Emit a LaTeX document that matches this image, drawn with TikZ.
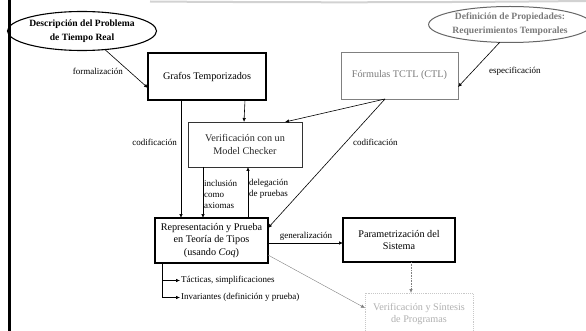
\documentclass[tikz,border=0pt]{standalone}
\usepackage{fontspec}
\setmainfont{Liberation Serif}
\usetikzlibrary{shapes.geometric,arrows.meta,calc}
\definecolor{grtxt}{HTML}{7A7A7A}
\definecolor{grline}{HTML}{808080}
\definecolor{ltgr}{HTML}{B0B0B0}
\begin{document}
\begin{tikzpicture}[x=1pt,y=-1pt,
  box/.style={draw,rectangle,outer sep=0pt,inner sep=1pt,align=center,font=\fontsize{10.2}{12.5}\selectfont},
  ell/.style={draw,ellipse,outer sep=0pt,inner sep=0pt,align=center,font=\fontsize{9.6}{14}\selectfont\bfseries},
  lbl/.style={inner sep=1pt,font=\fontsize{9}{11}\selectfont},
  arr/.style={-{Latex[length=4pt,width=3.5pt]},line width=0.6pt},
]
\useasboundingbox (0,0) rectangle (586,331);
% scan artifacts
\draw[line width=2.6pt] (9.5,0) -- (9.5,331);
\draw[gray!35,line width=2pt] (150,1.5) .. controls (350,3) and (480,2) .. (586,1);

\node[ell,line width=1.1pt,minimum width=145pt,minimum height=39pt] (e1) at (82,31) {Descripción del Problema\\de Tiempo Real};
\node[ell,draw=black!60,line width=1pt,text=grtxt,minimum width=134pt,minimum height=36pt] (e2) at (510,24.5) {Definición de Propiedades:\\Requerimientos Temporales};

\node[box,line width=1.2pt,minimum width=118pt,minimum height=47pt] (graf) at (207,76.5) {Grafos Temporizados};
\node[box,draw=grline,line width=0.9pt,text=grtxt,minimum width=117pt,minimum height=47pt] (form) at (399.5,75.5) {Fórmulas TCTL (CTL)};
\node[box,draw=black!80,line width=0.9pt,text=black!85,minimum width=114pt,minimum height=45pt] (mc) at (245,144.5) {Verificación con un\\Model Checker};
\node[box,line width=1.2pt,minimum width=113pt,minimum height=45pt] (rep) at (211.5,240.5) {Representación y Prueba\\en Teoría de Tipos\\(usando \textit{Coq})};
\node[box,line width=1.2pt,minimum width=112pt,minimum height=44pt] (param) at (399,240) {Parametrización del\\Sistema};
\node[box,draw=ltgr!70,densely dotted,line width=0.9pt,text=ltgr,minimum width=108pt,minimum height=42pt] (vs) at (419,314) {Verificación y Síntesis\\de Programas};

% connectors
\draw[arr] (e1.-39) -- ([yshift=-11.5pt]graf.west);
\node[lbl,anchor=east] at (124,71) {formalización};

\draw[arr] (e2.-120) -- ([yshift=-11.5pt]form.east);
\node[lbl,anchor=west] at (488,71) {especificación};

\draw[arr] ([xshift=33pt]graf.south west) -- ([xshift=26pt]rep.north west);
\node[lbl,anchor=east] at (178,142) {codificación};

\draw[arr] ([xshift=97pt]graf.south west) -- ([xshift=56pt]mc.north west);

\draw[arr] ([xshift=-14.5pt]form.south) -- ([xshift=-17pt]mc.north east);
\draw[arr] ([xshift=-14.5pt]form.south) -- ([yshift=-10pt]rep.north east);
\node[lbl,anchor=west] at (352,142) {codificación};

\draw[arr] ([xshift=15pt]mc.south west) -- ([xshift=48pt]rep.north west);
\node[lbl,anchor=west,align=left,font=\fontsize{9}{11.3}\selectfont] at (203,194.5) {inclusión\\como\\axiomas};

\draw[arr] ([xshift=93pt]rep.north west) -- ([xshift=60pt]mc.south west);
\node[lbl,anchor=west,align=left,font=\fontsize{9}{11.3}\selectfont] at (248,189) {delegación\\de pruebas};

\coordinate (g1) at ([yshift=-2.5pt]rep.east);
\draw[arr] (g1) -- (g1 -| param.west);
\node[lbl,anchor=south] at (306,242) {generalización};

\draw[-{Latex[length=4pt,width=3.5pt]},draw=grline,densely dotted,line width=0.6pt] ([xshift=12pt]param.south) -- ([xshift=-8pt]vs.north);
\draw[-{Latex[length=4pt,width=3.5pt]},draw=grline,line width=0.4pt] ([yshift=-14.5pt]rep.east) -- ([yshift=6pt]vs.west);

\node[lbl,anchor=west] (tact) at (180,280.5) {Tácticas, simplificaciones};
\node[lbl,anchor=west] (inv) at (180,297.5) {Invariantes (definición y prueba)};
\draw[arr] ([xshift=7pt]rep.south west) |- (tact.west);
\draw[arr] ([xshift=7pt]rep.south west) |- (inv.west);
\end{tikzpicture}
\end{document}
